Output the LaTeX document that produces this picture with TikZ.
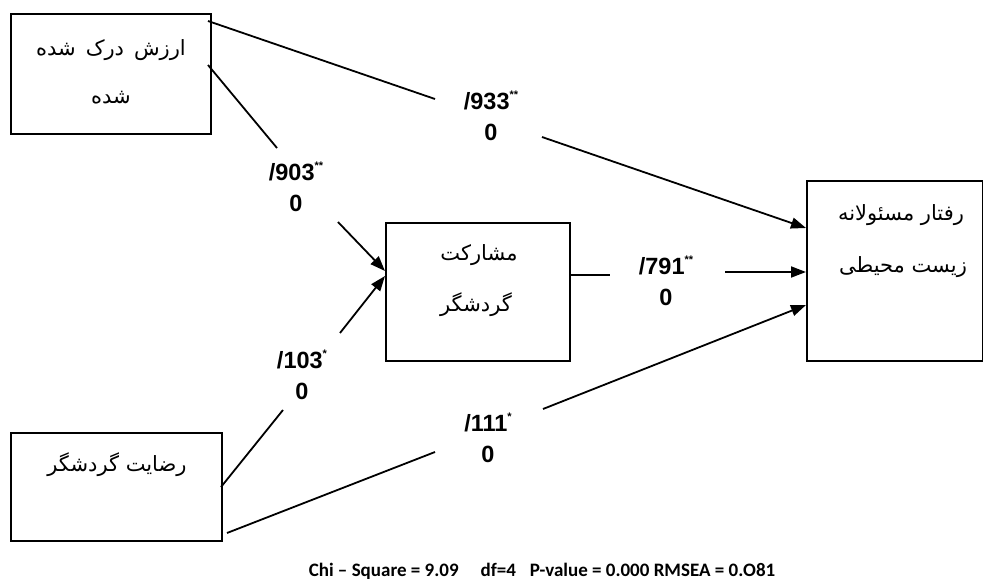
\documentclass[tikz,border=0pt]{standalone}
\usepackage{fontspec}
\usetikzlibrary{arrows.meta}
\TeXXeTstate=1
\newfontfamily\arabicfont[Script=Arabic]{DejaVu Sans}
\newfontfamily\lblfont{Liberation Sans}
\newfontfamily\capfont{Carlito}
\newcommand{\fa}[1]{{\arabicfont\beginR #1\endR}}
\newcommand{\sst}[1]{\raisebox{11pt}{\fontsize{11}{11}\selectfont #1}}
\begin{document}
\begin{tikzpicture}[x=1pt,y=-1pt,
  box/.style={draw, line width=1.6pt, inner sep=0pt, anchor=north west},
  fatext/.style={inner sep=0pt, font=\fontsize{21}{21}\selectfont},
  coef/.style={inner sep=0pt, align=center, font=\lblfont\bfseries\fontsize{23.5}{31}\selectfont},
  conn/.style={line width=1.8pt},
  arr/.style={line width=1.8pt, -{Triangle[length=15pt,width=11pt]}}]
\useasboundingbox (0,0) rectangle (983,583);
% boxes
\node[box, minimum width=200pt, minimum height=120pt] (A) at (10,13) {};
\node[box, minimum width=184pt, minimum height=138pt] (B) at (385,222) {};
\node[box, minimum width=176pt, minimum height=180pt] (C) at (806,180) {};
\node[box, minimum width=211pt, minimum height=108pt] (D) at (10,432) {};
% box texts
\node[fatext] (A1) at (111,50) {\fa{ارزش\hspace{10pt}درک\hspace{10pt}شده}};
\node[fatext] (A2) at (111,98) {\fa{شده}};
\node[fatext] (B1) at (479,255) {\fa{مشارکت}};
\node[fatext] (B2) at (476,305) {\fa{گردشگر}};
\node[fatext] (C1) at (901,215) {\fa{رفتار مسئولانه}};
\node[fatext] (C2) at (903,267) {\fa{زیست محیطی}};
\node[fatext] (D1) at (117,465) {\fa{رضایت گردشگر}};
% coefficient labels
\node[coef] (L933) at (491,116) {/933\sst{**}\\0};
\node[coef] (L903) at (296,187) {/903\sst{**}\\0};
\node[coef] (L791) at (666,281) {/791\sst{**}\\0};
\node[coef] (L103) at (302,375) {/103\sst{*}\\0};
\node[coef] (L111) at (488,438) {/111\sst{*}\\0};
% connector end points
\coordinate (a1) at (208,21);  \coordinate (a1e) at (435,99);
\coordinate (c1s) at (542,137); \coordinate (c1) at (806,228);
\coordinate (a2) at (208,65);  \coordinate (a2e) at (277,148);
\coordinate (b1s) at (338,222); \coordinate (b1) at (385,271);
\coordinate (bo) at (569,275);  \coordinate (boe) at (610,275);
\coordinate (c2s) at (725,272); \coordinate (c2) at (806,272);
\coordinate (d1) at (221,487);  \coordinate (d1e) at (283,410);
\coordinate (b2s) at (340,333); \coordinate (b2) at (385,276);
\coordinate (d2) at (227,533);  \coordinate (d2e) at (435,452);
\coordinate (c3s) at (543,409); \coordinate (c3) at (806,305);
% connectors
\draw[conn] (a1) -- (a1e);
\draw[arr] (c1s) -- (c1);
\draw[conn] (a2) -- (a2e);
\draw[arr] (b1s) -- (b1);
\draw[conn] (bo) -- (boe);
\draw[arr] (c2s) -- (c2);
\draw[conn] (d1) -- (d1e);
\draw[arr] (b2s) -- (b2);
\draw[conn] (d2) -- (d2e);
\draw[arr] (c3s) -- (c3);
% caption
\node[inner sep=0pt, font=\capfont\bfseries\fontsize{19}{19}\selectfont] (cap) at (542,571)
  {Chi – Square = 9.09\hspace{22pt}df=4\hspace{14pt}P-value = 0.000 RMSEA = 0.O81};
\end{tikzpicture}
\end{document}
